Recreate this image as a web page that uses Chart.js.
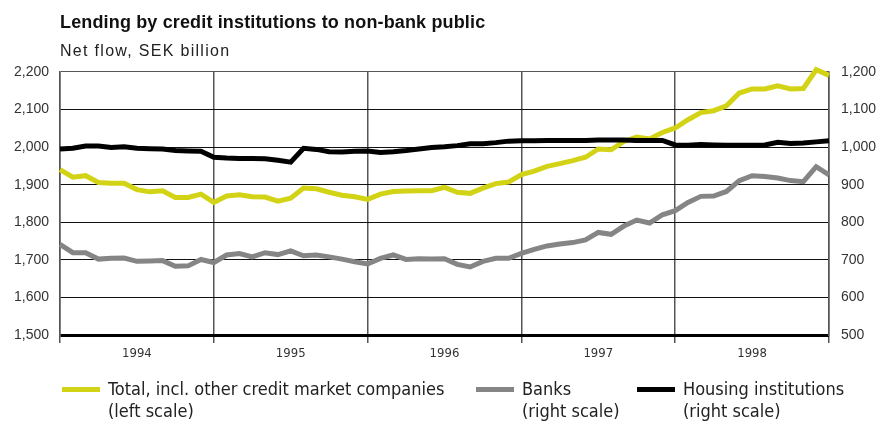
<!DOCTYPE html>
<html>
<head>
<meta charset="utf-8">
<script src="https://cdn.jsdelivr.net/npm/chart.js@4/dist/chart.umd.min.js"></script>
<style>
  html, body { margin: 0; padding: 0; background: #fff; }
  #wrap { position: relative; width: 879px; height: 423px; overflow: hidden; }
  #c { position: absolute; left: 0; top: 0; }
  .title { position: absolute; left: 60px; top: 12px; font: bold 18px "Liberation Sans", Arial, sans-serif; letter-spacing: 0.15px; line-height: 20px; color: #111; white-space: nowrap; }
  .sub { position: absolute; left: 60px; top: 42px; font: 16px "Liberation Sans", Arial, sans-serif; letter-spacing: 1.3px; line-height: 18px; color: #222; white-space: nowrap; }
  .leg { position: absolute; top: 378px; font: 18px "Liberation Sans Narrow", "DejaVu Sans Condensed", sans-serif; line-height: 22px; color: #222; white-space: nowrap; }
  .sw { position: absolute; width: 38px; height: 5px; top: 9px; }
  .lt { position: absolute; left: 46px; top: 0; }
</style>
</head>
<body>
<div id="wrap">
  <canvas id="c" width="879" height="423"></canvas>
  <div class="title">Lending by credit institutions to non-bank public</div>
  <div class="sub">Net flow, SEK billion</div>
  <div class="leg" style="left:62px"><div class="sw" style="background:#d3d316"></div><div class="lt">Total, incl. other credit market companies<br>(left scale)</div></div>
  <div class="leg" style="left:476px"><div class="sw" style="background:#858585"></div><div class="lt">Banks<br>(right scale)</div></div>
  <div class="leg" style="left:637px"><div class="sw" style="background:#000"></div><div class="lt">Housing institutions<br>(right scale)</div></div>
</div>
<script>
// Monthly observations, January 1994 to January 1999 (61 points)
const years = ['1994', '1995', '1996', '1997', '1998'];

// Total lending incl. other credit market companies, SEK billion (left scale)
const total = [
  1940, 1920, 1924, 1906, 1904, 1904, 1887, 1881, 1884, 1866, 1866, 1875,
  1853, 1870, 1873, 1868, 1867, 1856, 1864, 1891, 1889, 1880, 1872, 1868,
  1861, 1875, 1882, 1883, 1884, 1884, 1893, 1880, 1877, 1891, 1903, 1907,
  1927, 1936, 1949, 1956, 1964, 1973, 1995, 1993, 2015, 2027, 2022, 2039,
  2051, 2073, 2092, 2097, 2110, 2144, 2155, 2155, 2163, 2155, 2156, 2206, 2191
];

// Banks, SEK billion (right scale)
const banks = [
  741, 719, 719, 702, 704, 705, 696, 697, 698, 683, 684, 701,
  693, 713, 717, 708, 719, 714, 724, 711, 713, 708, 702, 695,
  689, 704, 713, 701, 703, 702, 703, 688, 681, 696, 704, 704,
  717, 728, 737, 742, 746, 753, 773, 768, 790, 806, 798, 820,
  831, 853, 869, 870, 882, 911, 924, 922, 918, 911, 908, 948, 926
];

// Housing institutions, SEK billion (right scale)
const housing = [
  995, 997, 1003, 1003, 999, 1001, 997, 996, 995, 991, 990, 989,
  973, 971, 970, 970, 969, 965, 960, 997, 994, 988, 987, 989,
  990, 986, 988, 991, 995, 999, 1001, 1004, 1009, 1009, 1012, 1016,
  1017, 1017, 1018, 1018, 1018, 1018, 1019, 1019, 1019, 1018, 1018, 1018,
  1006, 1005, 1007, 1006, 1005, 1005, 1005, 1006, 1013, 1010, 1011, 1014, 1017
];

const pts = arr => arr.map((v, i) => ({ x: i, y: v }));
const fmt = v => v.toLocaleString('en-US');

const tickFont = { family: '"Liberation Sans", Arial, sans-serif', size: 14 };

new Chart(document.getElementById('c'), {
  type: 'line',
  data: {
    datasets: [
      { label: 'Housing institutions', data: pts(housing), yAxisID: 'yR', borderColor: '#000', borderWidth: 5, pointRadius: 0, tension: 0, clip: false },
      { label: 'Banks', data: pts(banks), yAxisID: 'yR', borderColor: '#858585', borderWidth: 5, pointRadius: 0, tension: 0, clip: false },
      { label: 'Total', data: pts(total), yAxisID: 'yL', borderColor: '#d3d316', borderWidth: 5, pointRadius: 0, tension: 0, clip: false }
    ]
  },
  options: {
    responsive: false,
    animation: false,
    events: [],
    layout: { padding: { top: 72, left: 0, right: 0, bottom: 0 } },
    plugins: { legend: { display: false }, tooltip: { enabled: false } },
    scales: {
      x: {
        type: 'linear', min: 0, max: 60,
        afterFit: s => { s.height = 88; },
        afterBuildTicks: s => { s.ticks = []; for (let v = 0; v <= 60; v += 6) s.ticks.push({ value: v }); },
        border: { display: false },
        grid: {
          color: c => (c.tick && c.tick.value % 12 === 0) ? '#555' : 'rgba(0,0,0,0)',
          lineWidth: 1.5,
          tickLength: 8,
          drawOnChartArea: true
        },
        ticks: {
          autoSkip: false, maxRotation: 0, padding: 3,
          color: '#333',
          font: { family: '"Liberation Sans Narrow", "DejaVu Sans Condensed", sans-serif', size: 13 },
          callback: v => (v % 12 === 6) ? years[(v - 6) / 12] : ''
        }
      },
      yL: {
        position: 'left', min: 1500, max: 2200,
        afterFit: s => { s.width = 60; },
        border: { display: true, color: '#555', width: 1.5 },
        grid: {
          drawTicks: false,
          color: c => c.tick.value === 1500 ? '#000' : (c.tick.value === 2200 ? '#555' : '#111'),
          lineWidth: c => c.tick.value === 1500 ? 3 : 1.1
        },
        ticks: { stepSize: 100, padding: 11, color: '#333', font: tickFont, callback: v => fmt(v) }
      },
      yR: {
        position: 'right', min: 500, max: 1200,
        afterFit: s => { s.width = 50; },
        border: { display: true, color: '#555', width: 1.5 },
        grid: { drawOnChartArea: false, drawTicks: false },
        ticks: { stepSize: 100, padding: 12, color: '#333', font: tickFont, callback: v => fmt(v) }
      }
    }
  }
});
</script>
</body>
</html>
